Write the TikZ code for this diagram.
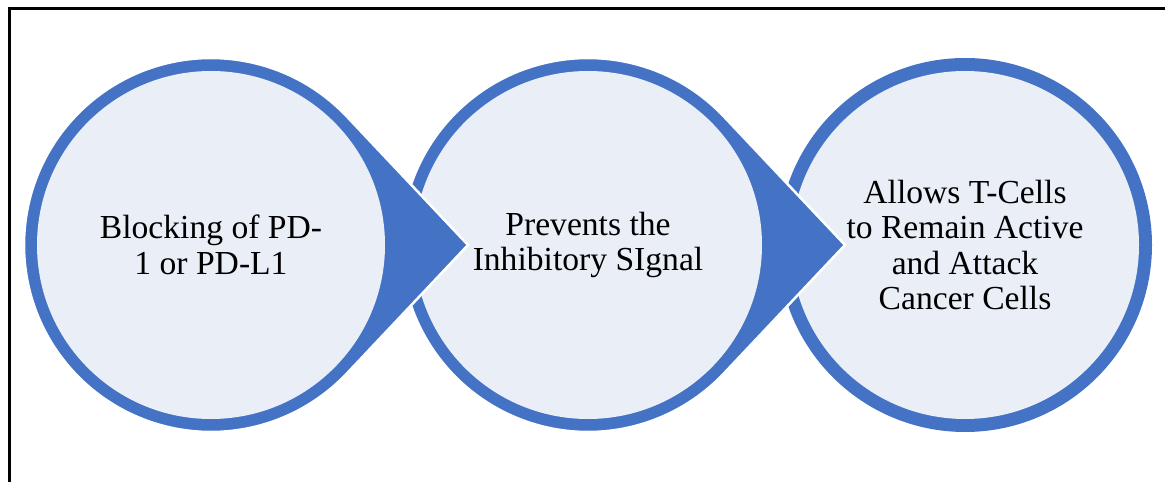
\documentclass[tikz,border=0pt]{standalone}
\usepackage{fontspec}
\setmainfont{Liberation Serif}
\definecolor{ringblue}{HTML}{4472C4}
\definecolor{cellfill}{HTML}{E9EEF7}
\begin{document}
\begin{tikzpicture}[x=1pt,y=1pt,
  disc/.style={circle, fill=cellfill, inner sep=0pt, minimum size=348pt,
    align=center, font=\fontsize{33.6}{35.5}\selectfont},
  ringdisc/.style={fill=ringblue},
  droparrow/.style={fill=ringblue, draw=white, line width=2.5pt, line join=miter}]
\useasboundingbox (0,0) rectangle (1165,482);
% outer frame
\begin{scope}
  \clip (0,0) rectangle (1165,482);
  \draw[line width=2.6pt] (9.5,-20) rectangle (1190,473.3);
\end{scope}
% step centres and arrow tips
\coordinate (p1) at (211,237);
\coordinate (p2) at (588,237);
\coordinate (p3) at (965,237);
\coordinate (t1) at (468,237);
\coordinate (t2) at (845,237);
% step 3: plain ring
\fill[ringdisc] (p3) circle[radius=187pt];
\node[disc] (c3) at (p3) {Allows T-Cells\\to Remain Active\\and Attack\\Cancer Cells};
% step 2: ring with arrow point
\filldraw[droparrow] (t2) -- ([shift={(p2)}]43.3:187pt)
  arc[start angle=43.3, end angle=316.7, radius=187pt] -- cycle;
\node[disc] (c2) at (p2) {Prevents the\\Inhibitory SIgnal};
% step 1: ring with arrow point
\filldraw[droparrow] (t1) -- ([shift={(p1)}]43.3:187pt)
  arc[start angle=43.3, end angle=316.7, radius=187pt] -- cycle;
\node[disc] (c1) at (p1) {Blocking of PD-\\1 or PD-L1};
\end{tikzpicture}
\end{document}
